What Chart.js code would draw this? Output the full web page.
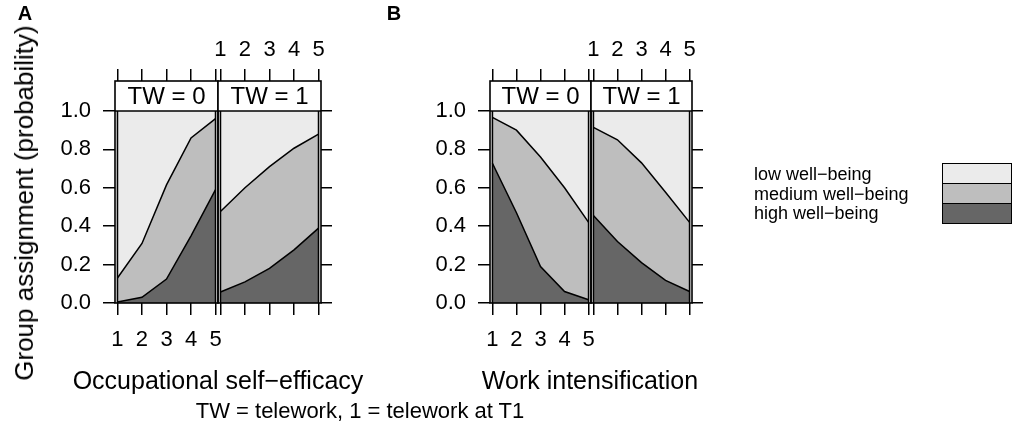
<!DOCTYPE html>
<html><head><meta charset="utf-8">
<script src="https://cdn.jsdelivr.net/npm/chart.js@4"></script>
<style>
html,body{margin:0;padding:0;background:#fff;}
body{width:1013px;height:426px;overflow:hidden;position:relative;font-family:'Liberation Sans',Arial,Helvetica,sans-serif;color:#000;}
canvas{position:absolute;left:0;top:0;}
.t{position:absolute;white-space:nowrap;line-height:1;transform:translate(-50%,-50%);}
.lg{position:absolute;white-space:nowrap;line-height:1;font-size:18px;transform:translateY(-50%);}
.sw{position:absolute;box-sizing:border-box;border:1.6px solid #000;}
</style></head><body>
<canvas id="a0" width="1013" height="426"></canvas>
<canvas id="a1" width="1013" height="426"></canvas>
<canvas id="b0" width="1013" height="426"></canvas>
<canvas id="b1" width="1013" height="426"></canvas>

<div class="t" style="left:25px;top:13px;font-size:20px;font-weight:bold;">A</div>
<div class="t" style="left:394px;top:13px;font-size:20px;font-weight:bold;">B</div>
<div class="t" style="left:24px;top:203px;font-size:26px;transform:translate(-50%,-50%) rotate(-90deg);">Group assignment (probability)</div>
<div class="t" style="left:218px;top:380px;font-size:25px;">Occupational self−efficacy</div>
<div class="t" style="left:590px;top:380px;font-size:25px;">Work intensification</div>
<div class="t" style="left:360px;top:411px;font-size:22px;">TW = telework, 1 = telework at T1</div>
<div id="legend"></div>

<script>
// ---- data ----
const xValues = [1, 2, 3, 4, 5];
const yTicks = [0, 0.2, 0.4, 0.6, 0.8, 1.0];
const stripLabels = ['TW = 0', 'TW = 1'];
const groupLabels = ['high well−being', 'medium well−being', 'low well−being'];
const groupColors = ['#666666', '#bebebe', '#ebebeb'];

// A: Occupational self-efficacy
const A_TW0_high   = [0.005, 0.03, 0.125, 0.35, 0.59];
const A_TW0_medium = [0.125, 0.28, 0.49, 0.51, 0.37];
const A_TW0_low    = [0.87, 0.69, 0.385, 0.14, 0.04];
const A_TW1_high   = [0.057, 0.11, 0.18, 0.277, 0.39];
const A_TW1_medium = [0.42, 0.49, 0.53, 0.529, 0.49];
const A_TW1_low    = [0.523, 0.40, 0.29, 0.194, 0.12];
// B: Work intensification
const B_TW0_high   = [0.728, 0.47, 0.19, 0.06, 0.017];
const B_TW0_medium = [0.239, 0.43, 0.57, 0.54, 0.403];
const B_TW0_low    = [0.033, 0.10, 0.24, 0.40, 0.58];
const B_TW1_high   = [0.456, 0.32, 0.21, 0.118, 0.06];
const B_TW1_medium = [0.459, 0.53, 0.52, 0.459, 0.36];
const B_TW1_low    = [0.085, 0.15, 0.27, 0.423, 0.58];

// ---- layout ----
const W = 1013, H = 426;
const FONT = "'Liberation Sans', Arial, Helvetica, sans-serif";
const TOP = 81, PLOT_TOP = 111, BOTTOM = 303;
const BOTTOM_H = 60, RIGHT_W = 20;
const yMax = 1 + (PLOT_TOP - TOP) / (BOTTOM - PLOT_TOP);

function tickFont() { return { family: FONT, size: 22 }; }

function makePanel(id, left, right, series, strip, o) {
  const panelPlugin = {
    id: 'panel_' + id,
    afterDatasetsDraw(chart) {
      const ctx = chart.ctx, a = chart.chartArea;
      const xs = chart.scales.x, ys = chart.scales.y;
      const y1 = ys.getPixelForValue(1), y0 = ys.getPixelForValue(0);
      ctx.save();
      ctx.strokeStyle = '#000';
      ctx.lineWidth = 1.6;
      [xValues[0], xValues[xValues.length - 1]].forEach(v => {
        const px = xs.getPixelForValue(v);
        ctx.beginPath(); ctx.moveTo(px, y0); ctx.lineTo(px, y1); ctx.stroke();
      });
      ctx.fillStyle = '#fff';
      ctx.fillRect(a.left, a.top, a.right - a.left, y1 - a.top);
      ctx.lineWidth = 1.6;
      ctx.beginPath(); ctx.moveTo(a.left, y1); ctx.lineTo(a.right, y1); ctx.stroke();
      ctx.fillStyle = '#000';
      ctx.font = '24px ' + FONT;
      ctx.textAlign = 'center'; ctx.textBaseline = 'middle';
      ctx.fillText(strip, (a.left + a.right) / 2, (a.top + y1) / 2 + 1);
      ctx.strokeRect(a.left, a.top, a.right - a.left, a.bottom - a.top);
      ctx.restore();
    }
  };
  const gridOpt = { drawOnChartArea: false, drawTicks: true, tickLength: 12, color: '#000', lineWidth: 1.5 };
  const xTicksFn = s => { s.ticks = xValues.map(v => ({ value: v })); };
  const yTicksFn = s => { s.ticks = yTicks.map(v => ({ value: v })); };
  const mk = (d, i, fill) => ({
    label: groupLabels[i],
    data: xValues.map((x, k) => ({ x: x, y: d[k] })),
    fill: fill,
    backgroundColor: groupColors[i],
    borderColor: '#000',
    borderWidth: i === 2 ? 0 : 1.5,
    pointRadius: 0,
    tension: 0
  });
  return new Chart(document.getElementById(id), {
    type: 'line',
    data: { datasets: [mk(series[0], 0, 'origin'), mk(series[1], 1, '-1'), mk(series[2], 2, '-1')] },
    options: {
      responsive: false, animation: false, events: [],
      layout: { padding: {
        left: o.leftAxis ? 0 : left,
        right: o.rightAxis ? (W - right - RIGHT_W) : (W - right),
        top: 0,
        bottom: H - BOTTOM - BOTTOM_H } },
      plugins: { legend: { display: false }, tooltip: { enabled: false } },
      scales: {
        x: { type: 'linear', position: 'bottom', min: 0.9, max: 5.1,
          afterBuildTicks: xTicksFn, afterFit: s => { s.height = BOTTOM_H; },
          ticks: { display: o.bottomLabels, font: tickFont(), color: '#000', padding: 12, maxRotation: 0, autoSkip: false },
          grid: gridOpt, border: { display: false } },
        x2: { type: 'linear', position: 'top', min: 0.9, max: 5.1,
          afterBuildTicks: xTicksFn, afterFit: s => { s.height = TOP; },
          ticks: { display: o.topLabels, font: tickFont(), color: '#000', padding: 6, maxRotation: 0, autoSkip: false },
          grid: gridOpt, border: { display: false } },
        y: { type: 'linear', position: 'left', stacked: true, min: 0, max: yMax, display: o.leftAxis,
          afterBuildTicks: yTicksFn, afterFit: s => { s.width = o.leftAxis ? left : 0; },
          ticks: { font: tickFont(), color: '#000', padding: 12, callback: v => v.toFixed(1) },
          grid: gridOpt, border: { display: false } },
        y2: { type: 'linear', position: 'right', min: 0, max: yMax, display: o.rightAxis,
          afterBuildTicks: yTicksFn, afterFit: s => { s.width = o.rightAxis ? RIGHT_W : 0; },
          ticks: { display: false },
          grid: Object.assign({}, gridOpt, { tickLength: 11 }), border: { display: false } }
      }
    },
    plugins: [panelPlugin]
  });
}

makePanel('a0', 115, 218, [A_TW0_high, A_TW0_medium, A_TW0_low], stripLabels[0],
  { leftAxis: true, rightAxis: false, bottomLabels: true, topLabels: false });
makePanel('a1', 218, 321, [A_TW1_high, A_TW1_medium, A_TW1_low], stripLabels[1],
  { leftAxis: false, rightAxis: true, bottomLabels: false, topLabels: true });
makePanel('b0', 490, 591, [B_TW0_high, B_TW0_medium, B_TW0_low], stripLabels[0],
  { leftAxis: true, rightAxis: false, bottomLabels: true, topLabels: false });
makePanel('b1', 591, 692, [B_TW1_high, B_TW1_medium, B_TW1_low], stripLabels[1],
  { leftAxis: false, rightAxis: true, bottomLabels: false, topLabels: true });

const legend = document.getElementById('legend');
[2, 1, 0].forEach((g, r) => {
  const lab = document.createElement('div');
  lab.className = 'lg';
  lab.style.left = '754px';
  lab.style.top = (174 + r * 19.5) + 'px';
  lab.textContent = groupLabels[g];
  legend.appendChild(lab);
  const sw = document.createElement('div');
  sw.className = 'sw';
  sw.style.left = '942px';
  sw.style.top = (163 + r * 20) + 'px';
  sw.style.width = '70px';
  sw.style.height = '21px';
  sw.style.background = groupColors[g];
  legend.appendChild(sw);
});
</script>
</body></html>
